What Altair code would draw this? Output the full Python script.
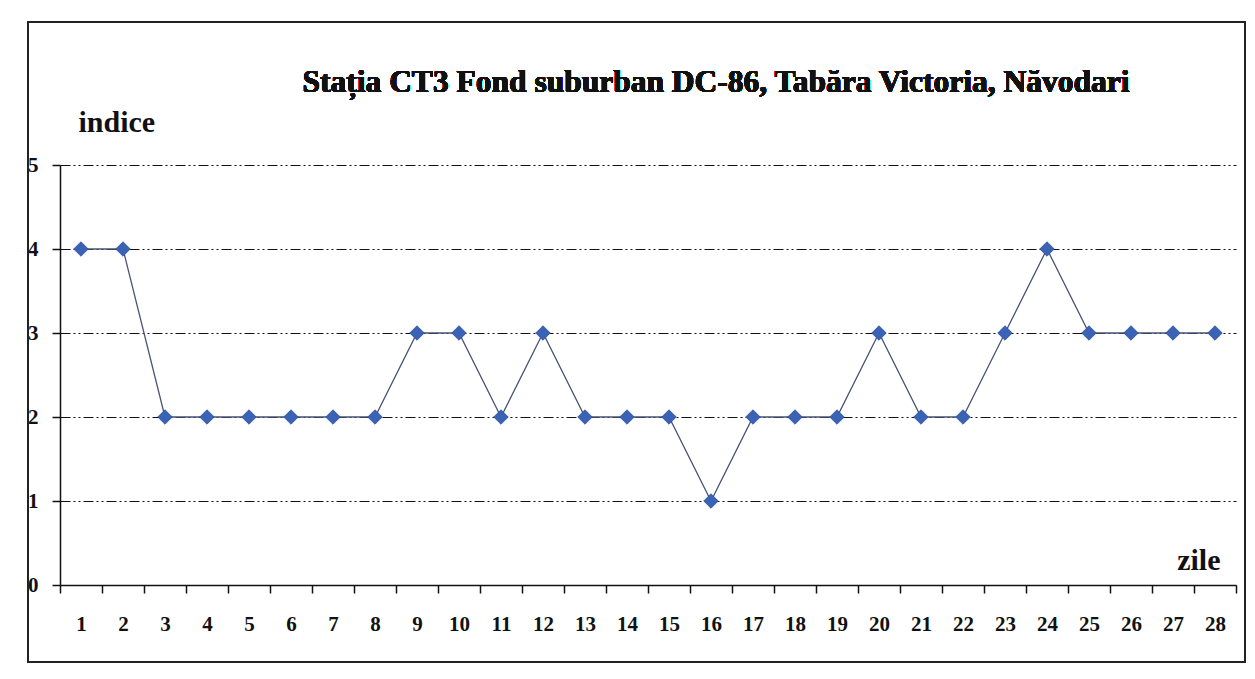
import altair as alt
import pandas as pd

days = [str(d) for d in range(1, 29)]
values = [4, 4, 2, 2, 2, 2, 2, 2, 3, 3, 2, 3, 2, 2, 2, 1, 2, 2, 2, 3, 2, 2, 3, 4, 3, 3, 3, 3]
y_ticks = [0, 1, 2, 3, 4, 5]

title_text = "Stația CT3 Fond suburban DC-86, Tabăra Victoria, Năvodari"
y_title = "indice"
x_title = "zile"

df = pd.DataFrame({"zi": days, "indice": values})

SERIF = "Liberation Serif"
W, H = 1176, 420

x_enc = alt.X(
    "zi:O",
    sort=days,
    scale=alt.Scale(type="band", paddingInner=0, paddingOuter=0),
    axis=alt.Axis(
        title=x_title, titleX=1160, titleY=-25, titleAlign="right", titleBaseline="middle",
        titleFont=SERIF, titleFontSize=30, titleFontWeight="bold", titleColor="#111",
        labelAngle=0, labelFont=SERIF, labelFontSize=21, labelFontWeight="bold", labelColor="#111",
        labelPadding=20, tickBand="extent", tickSize=8, tickColor="#111", domainColor="#111",
        domainWidth=1.5, tickWidth=1.5, grid=False,
    ),
)
y_enc = alt.Y(
    "indice:Q",
    scale=alt.Scale(domain=[0, 5], nice=False),
    axis=alt.Axis(
        values=y_ticks, title=y_title, titleAngle=0, titleX=18, titleY=-43,
        titleAlign="left", titleBaseline="middle",
        titleFont=SERIF, titleFontSize=30, titleFontWeight="bold", titleColor="#111",
        labelFont=SERIF, labelFontSize=21, labelFontWeight="bold", labelColor="#111",
        labelPadding=14, tickSize=8, tickColor="#111", domainColor="#111",
        domainWidth=1.5, tickWidth=1.5,
        grid=True, gridColor="#111", gridWidth=1.2, gridDash=[10, 3, 2, 3, 2, 3],
    ),
)

line = alt.Chart(df).mark_line(color="#4a5578", strokeWidth=1.3).encode(x=x_enc, y=y_enc)
pts = alt.Chart(df).mark_point(
    shape="diamond", filled=True, size=210, color="#3a62b5", opacity=1,
    stroke="#2f4f96", strokeWidth=0.8,
).encode(x=x_enc, y=y_enc)

frame = alt.Chart(df).mark_rect(
    fill=None, stroke="#222", strokeWidth=2
).encode(
    x=alt.value(-32), x2=alt.value(1185), y=alt.value(-143), y2=alt.value(497)
)

title = alt.Chart(df).mark_text(
    text=title_text, font=SERIF, fontSize=31.5, fontWeight="bold", color="#111",
    align="center", baseline="alphabetic",
).encode(x=alt.value(656), y=alt.value(-73))

chart = alt.layer(line, pts, frame, title).properties(
    width=W, height=H,
    autosize=alt.AutoSizeParams(type="none"),
    padding={"left": 52, "top": 157, "right": 10, "bottom": 80},
    background="white",
).configure_view(stroke=None)

chart.save("out.html", embed_options={"renderer": "svg", "actions": False})
